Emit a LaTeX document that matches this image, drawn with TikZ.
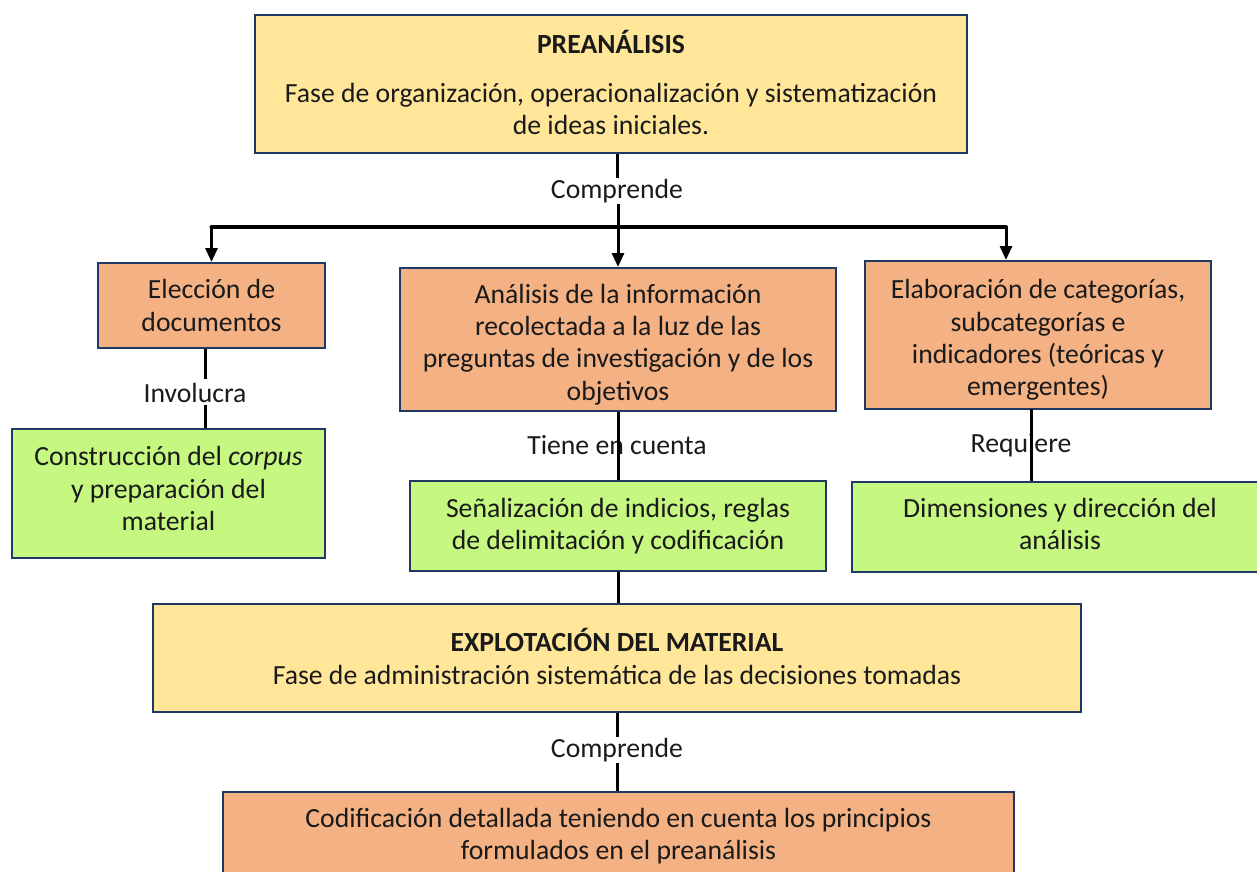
\documentclass[tikz,border=0pt]{standalone}
\usepackage{fontspec}
\setmainfont{Carlito}
\usetikzlibrary{arrows.meta}
\definecolor{navy}{HTML}{1F3864}
\definecolor{yel}{HTML}{FFE699}
\definecolor{ora}{HTML}{F4B183}
\definecolor{grn}{HTML}{C5F781}
\definecolor{txt}{HTML}{1A1A1A}
\begin{document}
\begin{tikzpicture}[x=1pt,y=-1pt,
  font=\fontsize{27.7}{32.3}\selectfont, text=txt,
  box/.style={draw=navy, line width=2pt, align=center, inner sep=0pt},
  yelbox/.style={box, fill=yel},
  orabox/.style={box, fill=ora},
  grnbox/.style={box, fill=grn},
  txtnode/.style={align=center, inner sep=0pt},
  lab/.style={inner sep=1pt},
  conn/.style={line width=3pt, black},
  arr/.style={conn, -{Triangle[width=12pt,length=14pt]}}]
\useasboundingbox (0,0) rectangle (1257,871);
\begin{scope}
\clip (0,0) rectangle (1257,871);
% PREANALISIS
\node[yelbox, minimum width=712, minimum height=138] (pre) at (611,84) {};
\node[txtnode] (pretitle) at (611,42) {\bfseries PREANÁLISIS};
\node[txtnode] (pretext) at (611,109) {Fase de organización, operacionalización y sistematización\\de ideas iniciales.};
% level 1
\node[orabox, minimum width=227, minimum height=85] (elec) at (211.5,305.5) {};
\node[txtnode] (electext) at (211.5,305.5) {Elección de\\documentos};
\node[orabox, minimum width=436, minimum height=143] (anal) at (618,339.5) {};
\node[txtnode] (analtext) at (618,344.5) {Análisis de la información\\recolectada a la luz de las\\preguntas de investigación y de los\\objetivos};
\node[orabox, minimum width=346, minimum height=148] (elab) at (1038,335) {};
\node[txtnode] (elabtext) at (1038,340) {Elaboración de categorías,\\subcategorías e\\indicadores (teóricas y\\emergentes)};
% level 2
\node[grnbox, minimum width=313, minimum height=129] (constr) at (168.5,493.5) {};
\node[txtnode] (constrtext) at (168.5,488.5) {Construcción del \textit{corpus}\\y preparación del\\material};
\node[grnbox, minimum width=416, minimum height=90] (senal) at (618,526) {};
\node[txtnode] (senaltext) at (618,526) {Señalización de indicios, reglas\\de delimitación y codificación};
\node[grnbox, minimum width=420, minimum height=90] (dimen) at (1062,527) {};
\node[txtnode] (dimtext) at (1060,524) {Dimensiones y dirección del\\análisis};
% EXPLOTACION
\node[yelbox, minimum width=928, minimum height=108] (explo) at (617,658) {};
\node[txtnode] (explotitle) at (617,640) {\bfseries EXPLOTACIÓN DEL MATERIAL};
\node[txtnode] (explotext) at (617,675) {Fase de administración sistemática de las decisiones tomadas};
% Codificacion
\node[orabox, minimum width=791, minimum height=120] (codif) at (618.5,852) {};
\node[txtnode] (codtext) at (618.5,836) {Codificación detallada teniendo en cuenta los principios\\formulados en el preanálisis};
% labels
\node[lab] (lc1) at (617,191) {Comprende};
\node[lab] (linv) at (195,393) {Involucra};
\node[lab] (ltie) at (617,445) {Tiene en cuenta};
\node[lab] (lreq) at (1021,445) {Requiere};
\node[lab] (lc2) at (617,750) {Comprende};
% bar coordinates
\coordinate (bl) at (211.5,227);
\coordinate (bm) at (618,227);
\coordinate (br) at (1006,227);
% connectors
\draw[conn] (pre.south -| lc1) -- (lc1.north);
\draw[conn] (lc1.south -| bm) -- (bm);
\draw[line width=4pt, line cap=round] (bl) -- (br);
\draw[arr] (bl) -- (elec.north);
\draw[arr] (bm) -- (anal.north);
\draw[arr] (br) -- (br |- elab.north);
\draw[conn] (elec.south -| 205,0) -- (205,379);
\draw[conn] (205,405) -- (constr.north -| 205,0);
\draw[conn] (anal.south) -- (senal.north);
\draw[conn] (1031,409) -- (1031,481);
\draw[conn] (senal.south) -- (explo.north -| senal.south);
\draw[conn] (explo.south -| lc2) -- (lc2.north);
\draw[conn] (lc2.south) -- (codif.north -| lc2);
\end{scope}
\end{tikzpicture}
\end{document}
